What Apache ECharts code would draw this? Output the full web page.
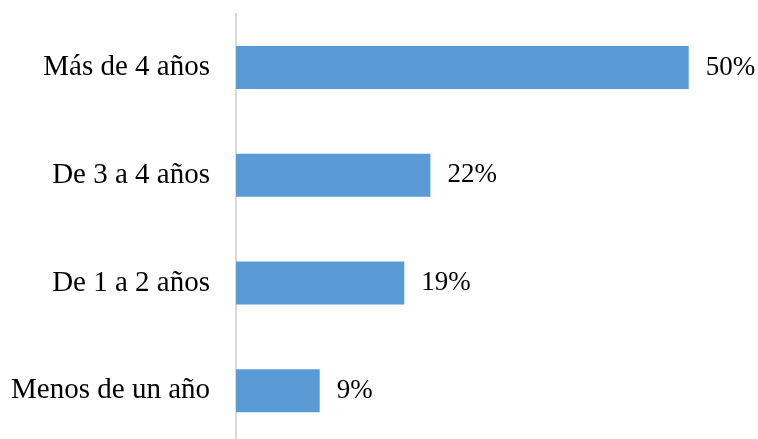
<!DOCTYPE html>
<html>
<head>
<meta charset="utf-8">
<script src="https://cdn.jsdelivr.net/npm/echarts@6/dist/echarts.min.js"></script>
<style>html,body{margin:0;padding:0;background:#fff;overflow:hidden;}#c{width:758px;height:445px;}</style>
</head>
<body>
<div id="c"></div>
<script>
var categories = ['Más de 4 años', 'De 3 a 4 años', 'De 1 a 2 años', 'Menos de un año'];
var values = [50.3, 21.6, 18.7, 9.3];

var chart = echarts.init(document.getElementById('c'));
chart.setOption({
  animation: false,
  grid: { left: 236, right: 27, top: 13.6, bottom: 0.4, containLabel: false },
  xAxis: {
    type: 'value', min: 0, max: 55, show: false
  },
  yAxis: {
    type: 'category', data: categories, inverse: true,
    axisLine: { show: true, lineStyle: { color: '#d9d9d9', width: 2 } },
    axisTick: { show: false },
    axisLabel: { margin: 26, color: '#000', fontFamily: 'Liberation Serif', fontSize: 29 }
  },
  series: [{
    type: 'bar', data: values, barWidth: 43,
    itemStyle: { color: '#5b9bd5' },
    label: {
      show: true, position: 'right', distance: 17, color: '#000',
      fontFamily: 'Liberation Serif', fontSize: 27,
      formatter: function (p) { return Math.round(p.value) + '%'; }
    }
  }]
});
</script>
</body>
</html>
